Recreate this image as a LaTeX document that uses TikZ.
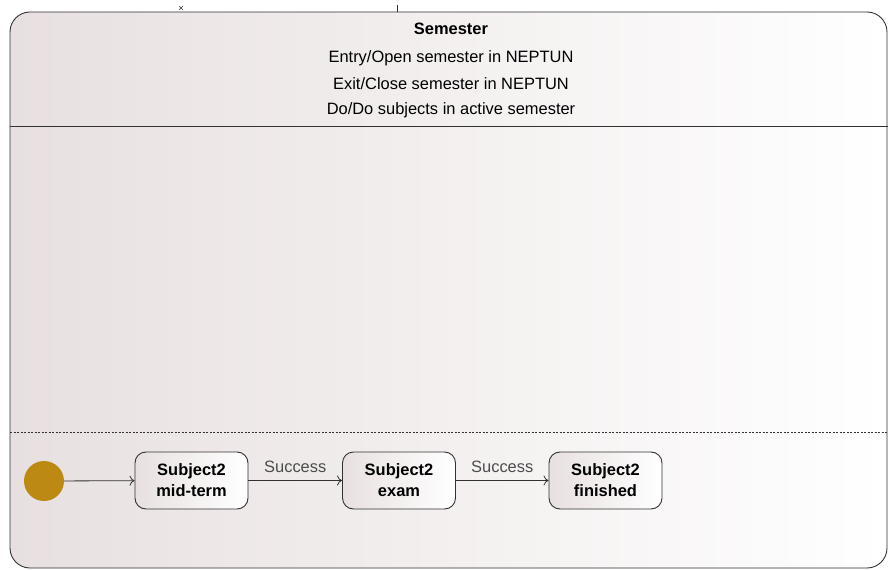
\documentclass[tikz,border=0pt]{standalone}
\usepackage{fontspec}
\setmainfont{Liberation Sans}
\usetikzlibrary{arrows.meta}
\definecolor{pinkgray}{RGB}{232,224,224}
\definecolor{initgold}{RGB}{188,138,18}
\definecolor{linegray}{RGB}{50,50,50}
\begin{document}
\begin{tikzpicture}[x=1bp,y=-1bp]
\tikzstyle{st} = [draw=linegray,line width=0.9bp,rounded corners=11bp,left color=pinkgray,right color=white,
  minimum width=113bp,minimum height=57bp,align=center,font=\fontsize{16.5}{21}\selectfont\bfseries] %state
\tikzstyle{tr} = [-{To[length=5bp,width=10bp]},draw=linegray,line width=0.8bp] %transition
\tikzstyle{lbl} = [font=\fontsize{16.5}{20}\selectfont,text=black!70,inner sep=2bp] %transition label
\tikzstyle{txt} = [font=\fontsize{16.5}{20}\selectfont] %internal activity
\useasboundingbox (0,0) rectangle (888,570);
\clip (0,0) rectangle (888,570);
% composite state
\draw[draw=linegray,line width=0.9bp,rounded corners=20bp,left color=pinkgray,right color=white] (10,12) rectangle (887,568);
\draw[linegray] (397,5) -- (397,12);
\draw[linegray] (179,6) -- (183,10) (183,6) -- (179,10);
\node[txt,font=\fontsize{16.5}{20}\selectfont\bfseries](title)at(451,29){Semester};
\node[txt](entry)at(451,58){Entry/Open semester in NEPTUN};
\node[txt](exit)at(451,84){Exit/Close semester in NEPTUN};
\node[txt](do)at(451,110){Do/Do subjects in active semester};
\draw[linegray,line width=0.9bp] (10,126) -- (888,126);
\draw[linegray,dash pattern=on 2bp off 1.5bp] (10,432) -- (888,432);
% region
\node[circle,fill=initgold,minimum size=40bp,inner sep=0pt](init)at(44,481){};
\node[st](mid)at(191.5,480.5){Subject2\\mid-term};
\node[st](exam)at(399,480.5){Subject2\\exam};
\node[st](fin)at(605.5,480.5){Subject2\\finished};
\draw[tr](init)--(mid);
\draw[tr](mid)--node[lbl,above=5bp]{Success}(exam);
\draw[tr](exam)--node[lbl,above=5bp]{Success}(fin);
\end{tikzpicture}
\end{document}
